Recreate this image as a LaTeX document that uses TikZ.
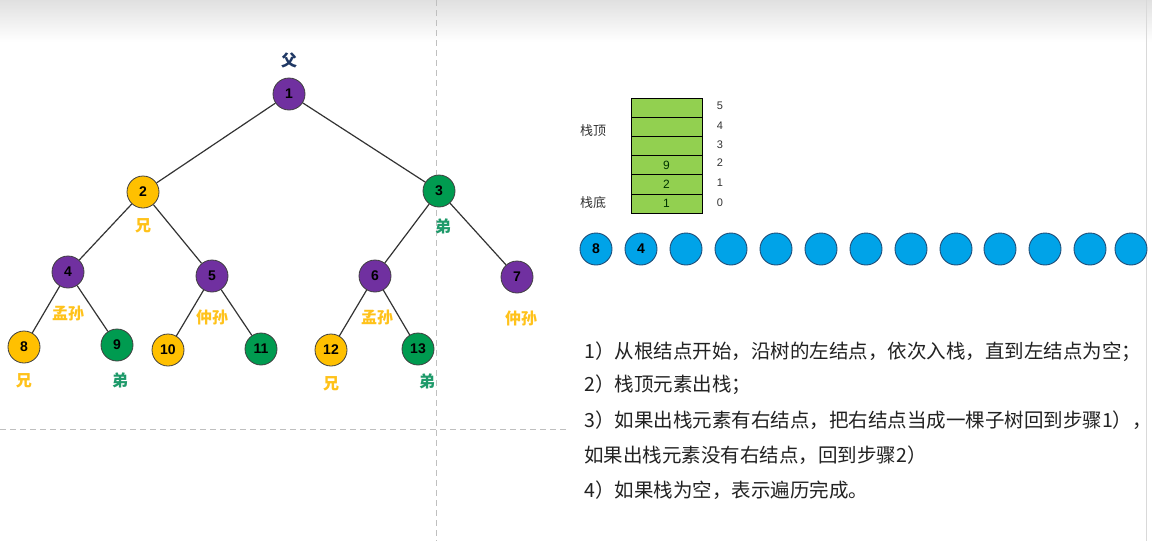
\documentclass[tikz,border=0pt]{standalone}
\usepackage{fontspec}
\setmainfont{Liberation Sans}
\newfontfamily\cjk{Noto Sans CJK SC}
\definecolor{cpurple}{HTML}{7030A0}
\definecolor{cyellow}{HTML}{FFC000}
\definecolor{cgreen}{HTML}{009B50}
\definecolor{lyellow}{HTML}{FFC21A}
\definecolor{lgreen}{HTML}{1E9A6A}
\definecolor{navy}{HTML}{1F3864}
\definecolor{sgreen}{HTML}{92D050}
\definecolor{cblue}{HTML}{00A3E8}
\definecolor{bborder}{HTML}{1F4E79}
\definecolor{txt}{HTML}{222222}
\tikzset{
  tn/.style={circle, draw=black!75, line width=0.8pt, minimum size=32pt, inner sep=0pt,
    font=\fontsize{14}{14}\selectfont\bfseries},
  pnode/.style={tn, fill=cpurple},
  ynode/.style={tn, fill=cyellow},
  gnode/.style={tn, fill=cgreen},
  edge/.style={draw=black!80, line width=1.2pt},
  lab/.style={font=\cjk\fontsize{16}{16}\selectfont\bfseries, inner sep=0pt},
  ylab/.style={lab, text=lyellow},
  glab/.style={lab, text=lgreen},
  cell/.style={rectangle, draw=black, line width=0.9pt, fill=sgreen, minimum width=71pt,
    minimum height=19.2pt, inner sep=0pt, font=\fontsize{12}{12}\selectfont, text=black!80!green},
  idx/.style={font=\fontsize{11}{11}\selectfont, text=black!80, inner sep=0pt},
  slab/.style={font=\cjk\fontsize{13}{13}\selectfont, text=black!80, inner sep=0pt},
  bnode/.style={circle, draw=bborder, line width=0.9pt, fill=cblue, minimum size=32pt, inner sep=0pt,
    font=\fontsize{14}{14}\selectfont\bfseries},
  stepline/.style={anchor=west, inner sep=0pt, font=\cjk\fontsize{19.5}{19.5}\selectfont, text=txt},
  guide/.style={draw=black!25, line width=0.8pt, dash pattern=on 6pt off 4pt}
}
\begin{document}
\begin{tikzpicture}[x=1pt,y=-1pt]
\useasboundingbox (0,0) rectangle (1152,541);
\fill[white] (0,0) rectangle (1152,541);
\shade[top color=black!12, bottom color=white] (0,0) rectangle (1152,42);
% guide lines
\draw[guide] (436,0) -- (436,541);
\draw[guide] (0,429) -- (566,429);
\draw[draw=black!15, line width=0.8pt] (1146,0) -- (1146,541);
% tree nodes
\node[pnode] (n1) at (289,94) {1};
\node[ynode] (n2) at (143,192) {2};
\node[gnode] (n3) at (439,191) {3};
\node[pnode] (n4) at (68,272) {4};
\node[pnode] (n5) at (212,276) {5};
\node[pnode] (n6) at (375,276) {6};
\node[pnode] (n7) at (517,277) {7};
\node[ynode] (n8) at (24,347) {8};
\node[gnode] (n9) at (117,345) {9};
\node[ynode] (n10) at (168,350) {10};
\node[gnode] (n11) at (261,349) {11};
\node[ynode] (n12) at (331,350) {12};
\node[gnode] (n13) at (418,349) {13};
% edges
\draw[edge] (n1) -- (n2);
\draw[edge] (n1) -- (n3);
\draw[edge] (n2) -- (n4);
\draw[edge] (n2) -- (n5);
\draw[edge] (n3) -- (n6);
\draw[edge] (n3) -- (n7);
\draw[edge] (n4) -- (n8);
\draw[edge] (n4) -- (n9);
\draw[edge] (n5) -- (n10);
\draw[edge] (n5) -- (n11);
\draw[edge] (n6) -- (n12);
\draw[edge] (n6) -- (n13);
% labels
\node[lab, text=navy] (lf) at (289,60) {父};
\node[ylab] (l2) at (143,226) {兄};
\node[glab] (l3) at (443,226) {弟};
\node[ylab] (l4) at (68,313) {孟孙};
\node[ylab] (l5) at (212,317) {仲孙};
\node[ylab] (l6) at (377,317) {孟孙};
\node[ylab] (l7) at (521,318) {仲孙};
\node[ylab] (l8) at (24,381) {兄};
\node[glab] (l9) at (120,380) {弟};
\node[ylab] (l12) at (331,384) {兄};
\node[glab] (l13) at (427,381) {弟};
% stack
\node[cell] (s5) at (666.5,107.6) {};
\node[cell] (s4) at (666.5,126.8) {};
\node[cell] (s3) at (666.5,146.0) {};
\node[cell] (s2) at (666.5,165.2) {9};
\node[cell] (s1) at (666.5,184.4) {2};
\node[cell] (s0) at (666.5,203.6) {1};
\node[idx] (i5) at (720,106) {5};
\node[idx] (i4) at (720,126) {4};
\node[idx] (i3) at (720,145) {3};
\node[idx] (i2) at (720,163) {2};
\node[idx] (i1) at (720,183) {1};
\node[idx] (i0) at (720,203) {0};
\node[slab] (top) at (593,131) {栈顶};
\node[slab] (bot) at (593,203) {栈底};
% blue queue
\node[bnode] (b1) at (596,249) {8};
\node[bnode] (b2) at (641,249) {4};
\foreach \i/\x in {3/686,4/731,5/776,6/821,7/866,8/911,9/956,10/1000,11/1045,12/1090,13/1131}
  \node[bnode] (b\i) at (\x,249) {};
% steps
\node[stepline] (t1) at (584,352) {1）从根结点开始，沿树的左结点，依次入栈，直到左结点为空；};
\node[stepline] (t2) at (584,385) {2）栈顶元素出栈；};
\node[stepline] (t3) at (584,420) {3）如果出栈元素有右结点，把右结点当成一棵子树回到步骤1），};
\node[stepline] (t4) at (584,455) {如果出栈元素没有右结点，回到步骤2）};
\node[stepline] (t5) at (584,490) {4）如果栈为空，表示遍历完成。};
\end{tikzpicture}
\end{document}
